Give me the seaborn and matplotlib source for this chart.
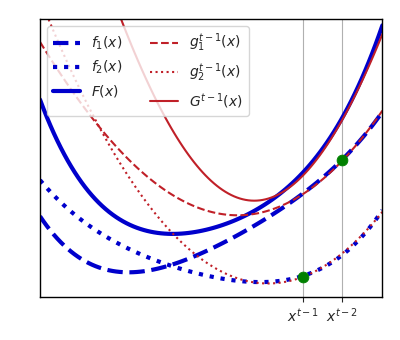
import matplotlib
matplotlib.use("Agg")
import matplotlib.pyplot as plt
import seaborn as sns

sns.set_style("ticks")
plt.rcParams["font.family"] = ["DejaVu Sans"]

# sample positions (arbitrary units) and read-off curve values
x_pts = [0, 2, 4, 6, 8, 10, 12, 14, 16, 18, 20, 22, 24, 26.3, 28, 30.2, 32, 34.25]
f1_vals = [8.1, 5.5, 3.9, 2.9, 2.5, 2.5, 2.9, 3.5, 4.3, 5.3, 6.3, 7.4, 8.7, 10.4, 11.7, 13.7, 15.7, 18.5]
f2_vals = [11.7, 9.6, 7.8, 6.3, 5.2, 4.3, 3.5, 2.9, 2.4, 1.95, 1.6, 1.37, 1.42, 1.95, 2.8, 4.35, 6.0, 8.5]
F_vals = [19.8, 15.1, 11.7, 9.2, 7.7, 6.8, 6.4, 6.4, 6.7, 7.25, 7.9, 8.77, 10.12, 12.35, 14.5, 18.05, 21.7, 27.0]
g1_vals = [25.7, 22.3, 19.4, 16.9, 14.5, 12.7, 11.3, 10.0, 9.0, 8.3, 8.0, 8.1, 8.8, 10.45, 11.75, 13.7, 15.75, 18.5]
g2_vals = [29.9, 25.15, 20.79, 16.87, 13.4, 10.36, 7.77, 5.61, 3.89, 2.62, 1.78, 1.39, 1.43, 1.95, 2.8, 4.35, 6.0, 8.5]
G_x = [6, 8, 10, 12, 14, 16, 18, 20, 22, 24, 26.3, 28, 30.2, 32, 34.25]
G_vals = [33.77, 27.9, 23.06, 19.07, 15.61, 12.89, 10.92, 9.78, 9.49, 10.23, 12.3, 14.3, 17.6, 21.2, 26.3]

tick_pos = [26.3, 30.2]
tick_labels = ["$x^{t-1}$", "$x^{t-2}$"]
touch_x = [26.3, 30.2]
touch_y = [1.95, 13.7]

blue = "#0000cc"
red = "#c02028"

fig = plt.figure(figsize=(4.0, 3.4), dpi=100)
ax = fig.add_axes([0.1, 0.127, 0.856, 0.816])

series = [
    (x_pts, f1_vals, "$f_1(x)$", blue, "--", 3.0),
    (x_pts, f2_vals, "$f_2(x)$", blue, ":", 3.0),
    (x_pts, F_vals, "$F(x)$", blue, "-", 3.0),
    (x_pts, g1_vals, "$g_1^{t-1}(x)$", red, "--", 1.5),
    (x_pts, g2_vals, "$g_2^{t-1}(x)$", red, ":", 1.5),
    (G_x, G_vals, "$G^{t-1}(x)$", red, "-", 1.5),
]
for xs, vals, lab, col, ls, lw in series:
    sns.regplot(x=xs, y=vals, ax=ax, order=4, ci=None, scatter=False,
                truncate=True, label=lab,
                line_kws=dict(color=col, linestyle=ls, linewidth=lw))

sns.scatterplot(x=touch_x, y=touch_y, ax=ax, color="green", s=60,
                edgecolor="green", zorder=5)

ax.set_xlim(0, 34.25)
ax.set_ylim(0, 27.8)
ax.set_xticks(tick_pos)
ax.set_xticklabels(tick_labels, fontsize=10)
ax.set_yticks([])
ax.set_xlabel("")
ax.set_ylabel("")
ax.grid(axis="x", color="#b0b0b0", linewidth=0.8)
ax.set_axisbelow(True)
for s in ax.spines.values():
    s.set_visible(True)
    s.set_color("black")
    s.set_linewidth(1.0)

ax.legend(loc="upper left", ncol=2, fontsize=10)
fig.savefig("out.png", dpi=100)
